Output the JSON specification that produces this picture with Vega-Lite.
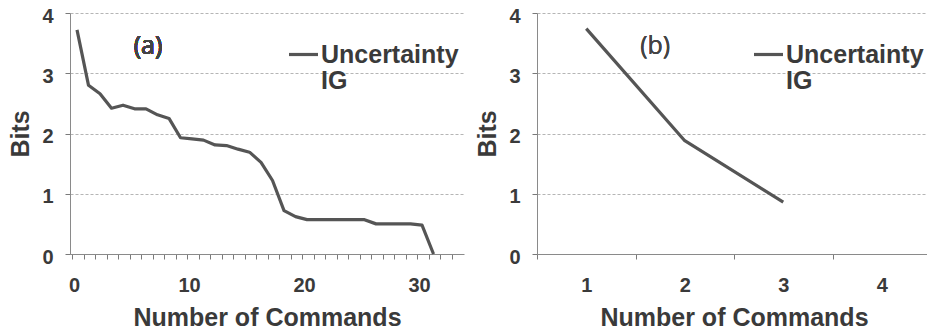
{
  "$schema": "https://vega.github.io/schema/vega-lite/v6.json",
  "padding": {"left": 8, "top": 6, "right": 0, "bottom": 0},
  "background": "white",
  "spacing": 11,
  "config": {
    "view": {"stroke": null},
    "font": "Liberation Sans",
    "axis": {
      "labelFont": "Liberation Sans",
      "labelFontWeight": "bold",
      "labelFontSize": 20,
      "labelColor": "#3a3a3a",
      "titleFont": "Liberation Sans",
      "titleFontWeight": "bold",
      "titleFontSize": 25,
      "titleColor": "#3a3a3a",
      "domainColor": "#8a8a8a",
      "tickColor": "#7a7a7a",
      "gridColor": "#b5b5b5",
      "gridDash": [3, 2],
      "ticks": true,
      "tickSize": 5
    },
    "legend": {
      "labelFont": "Liberation Sans",
      "labelFontWeight": "bold",
      "labelFontSize": 25,
      "labelColor": "#3a3a3a",
      "labelLimit": 300
    }
  },
  "resolve": {"scale": {"color": "independent"}, "legend": {"color": "independent"}},
  "hconcat": [
    {
      "width": 394,
      "height": 241,
      "data": {"values": [
        {"cmd": 0, "bits": 3.72, "series": "Uncertainty"},
        {"cmd": 1, "bits": 2.80, "series": "Uncertainty"},
        {"cmd": 2, "bits": 2.66, "series": "Uncertainty"},
        {"cmd": 3, "bits": 2.42, "series": "Uncertainty"},
        {"cmd": 4, "bits": 2.47, "series": "Uncertainty"},
        {"cmd": 5, "bits": 2.41, "series": "Uncertainty"},
        {"cmd": 6, "bits": 2.41, "series": "Uncertainty"},
        {"cmd": 7, "bits": 2.31, "series": "Uncertainty"},
        {"cmd": 8, "bits": 2.25, "series": "Uncertainty"},
        {"cmd": 9, "bits": 1.93, "series": "Uncertainty"},
        {"cmd": 10, "bits": 1.91, "series": "Uncertainty"},
        {"cmd": 11, "bits": 1.89, "series": "Uncertainty"},
        {"cmd": 12, "bits": 1.81, "series": "Uncertainty"},
        {"cmd": 13, "bits": 1.80, "series": "Uncertainty"},
        {"cmd": 14, "bits": 1.74, "series": "Uncertainty"},
        {"cmd": 15, "bits": 1.69, "series": "Uncertainty"},
        {"cmd": 16, "bits": 1.52, "series": "Uncertainty"},
        {"cmd": 17, "bits": 1.22, "series": "Uncertainty"},
        {"cmd": 18, "bits": 0.72, "series": "Uncertainty"},
        {"cmd": 19, "bits": 0.62, "series": "Uncertainty"},
        {"cmd": 20, "bits": 0.57, "series": "Uncertainty"},
        {"cmd": 21, "bits": 0.57, "series": "Uncertainty"},
        {"cmd": 22, "bits": 0.57, "series": "Uncertainty"},
        {"cmd": 23, "bits": 0.57, "series": "Uncertainty"},
        {"cmd": 24, "bits": 0.57, "series": "Uncertainty"},
        {"cmd": 25, "bits": 0.57, "series": "Uncertainty"},
        {"cmd": 26, "bits": 0.50, "series": "Uncertainty"},
        {"cmd": 27, "bits": 0.50, "series": "Uncertainty"},
        {"cmd": 28, "bits": 0.50, "series": "Uncertainty"},
        {"cmd": 29, "bits": 0.50, "series": "Uncertainty"},
        {"cmd": 30, "bits": 0.48, "series": "Uncertainty"},
        {"cmd": 31, "bits": 0.0, "series": "Uncertainty"}
      ]},
      "resolve": {"axis": {"x": "independent"}},
      "layer": [
        {
          "mark": {"type": "line", "strokeWidth": 3.2, "strokeJoin": "round"},
          "encoding": {
            "x": {"field": "cmd", "type": "quantitative",
                  "scale": {"domain": [-0.61, 33.65], "nice": false, "zero": false},
                  "axis": {"orient": "bottom", "title": null, "grid": false, "labels": false, "ticks": true,
                           "values": [0,1,2,3,4,5,6,7,8,9,10,11,12,13,14,15,16,17,18,19,20,21,22,23,24,25,26,27,28,29,30,31,32,33],
                           "tickOffset": -5}},
            "y": {"field": "bits", "type": "quantitative",
                  "scale": {"domain": [0, 4], "nice": false},
                  "axis": {"title": "Bits", "values": [0,1,2,3,4], "format": "d", "grid": true,
                           "labelPadding": 12, "labelOffset": 3, "titlePadding": 8}},
            "color": {"field": "series", "type": "nominal",
                      "scale": {"domain": ["Uncertainty", "IG"], "range": ["#555555", "transparent"]},
                      "legend": {"title": null, "orient": "none", "legendX": 221, "legendY": 29,
                                 "symbolType": "M-2,0H2", "symbolSize": 210, "symbolStrokeWidth": 3.2,
                                 "labelOffset": 5, "rowPadding": -4}}
          }
        },
        {
          "mark": {"type": "text", "font": "Open Sans", "fontSize": 25, "color": "#444444"},
          "encoding": {
            "x": {"datum": 6.17, "type": "quantitative",
                  "axis": {"orient": "bottom", "title": "Number of Commands", "grid": false, "domain": false,
                           "ticks": false, "values": [0, 10, 20, 30], "format": "d",
                           "labelOverlap": false, "labelFlush": false, "labelOffset": -3,
                           "labelPadding": 21, "titlePadding": 10}},
            "y": {"datum": 3.46, "type": "quantitative"},
            "text": {"value": "(a)"}
          }
        }
      ]
    },
    {
      "width": 394,
      "height": 241,
      "data": {"values": [
        {"cmd": 1, "bits": 3.74, "series": "Uncertainty"},
        {"cmd": 2, "bits": 1.88, "series": "Uncertainty"},
        {"cmd": 3, "bits": 0.86, "series": "Uncertainty"}
      ]},
      "resolve": {"axis": {"x": "independent"}},
      "layer": [
        {
          "mark": {"type": "line", "strokeWidth": 3.2, "strokeJoin": "round"},
          "encoding": {
            "x": {"field": "cmd", "type": "quantitative",
                  "scale": {"domain": [0.5, 4.5], "nice": false, "zero": false},
                  "axis": {"orient": "bottom", "title": null, "grid": false, "labels": false, "ticks": true,
                           "values": [0.5, 1.5, 2.5, 3.5]}},
            "y": {"field": "bits", "type": "quantitative",
                  "scale": {"domain": [0, 4], "nice": false},
                  "axis": {"title": "Bits", "values": [0,1,2,3,4], "format": "d", "grid": true,
                           "labelPadding": 12, "labelOffset": 3, "titlePadding": 8}},
            "color": {"field": "series", "type": "nominal",
                      "scale": {"domain": ["Uncertainty", "IG"], "range": ["#555555", "transparent"]},
                      "legend": {"title": null, "orient": "none", "legendX": 219, "legendY": 29,
                                 "symbolType": "M-2,0H2", "symbolSize": 210, "symbolStrokeWidth": 3.2,
                                 "labelOffset": 5, "rowPadding": -4}}
          }
        },
        {
          "mark": {"type": "text", "font": "Open Sans", "fontSize": 25, "color": "#444444"},
          "encoding": {
            "x": {"datum": 1.7, "type": "quantitative",
                  "axis": {"orient": "bottom", "title": "Number of Commands", "grid": false, "domain": false,
                           "ticks": false, "values": [1, 2, 3, 4], "format": "d",
                           "labelOverlap": false, "labelFlush": false,
                           "labelPadding": 21, "titlePadding": 10}},
            "y": {"datum": 3.45, "type": "quantitative"},
            "text": {"value": "(b)"}
          }
        }
      ]
    }
  ]
}
